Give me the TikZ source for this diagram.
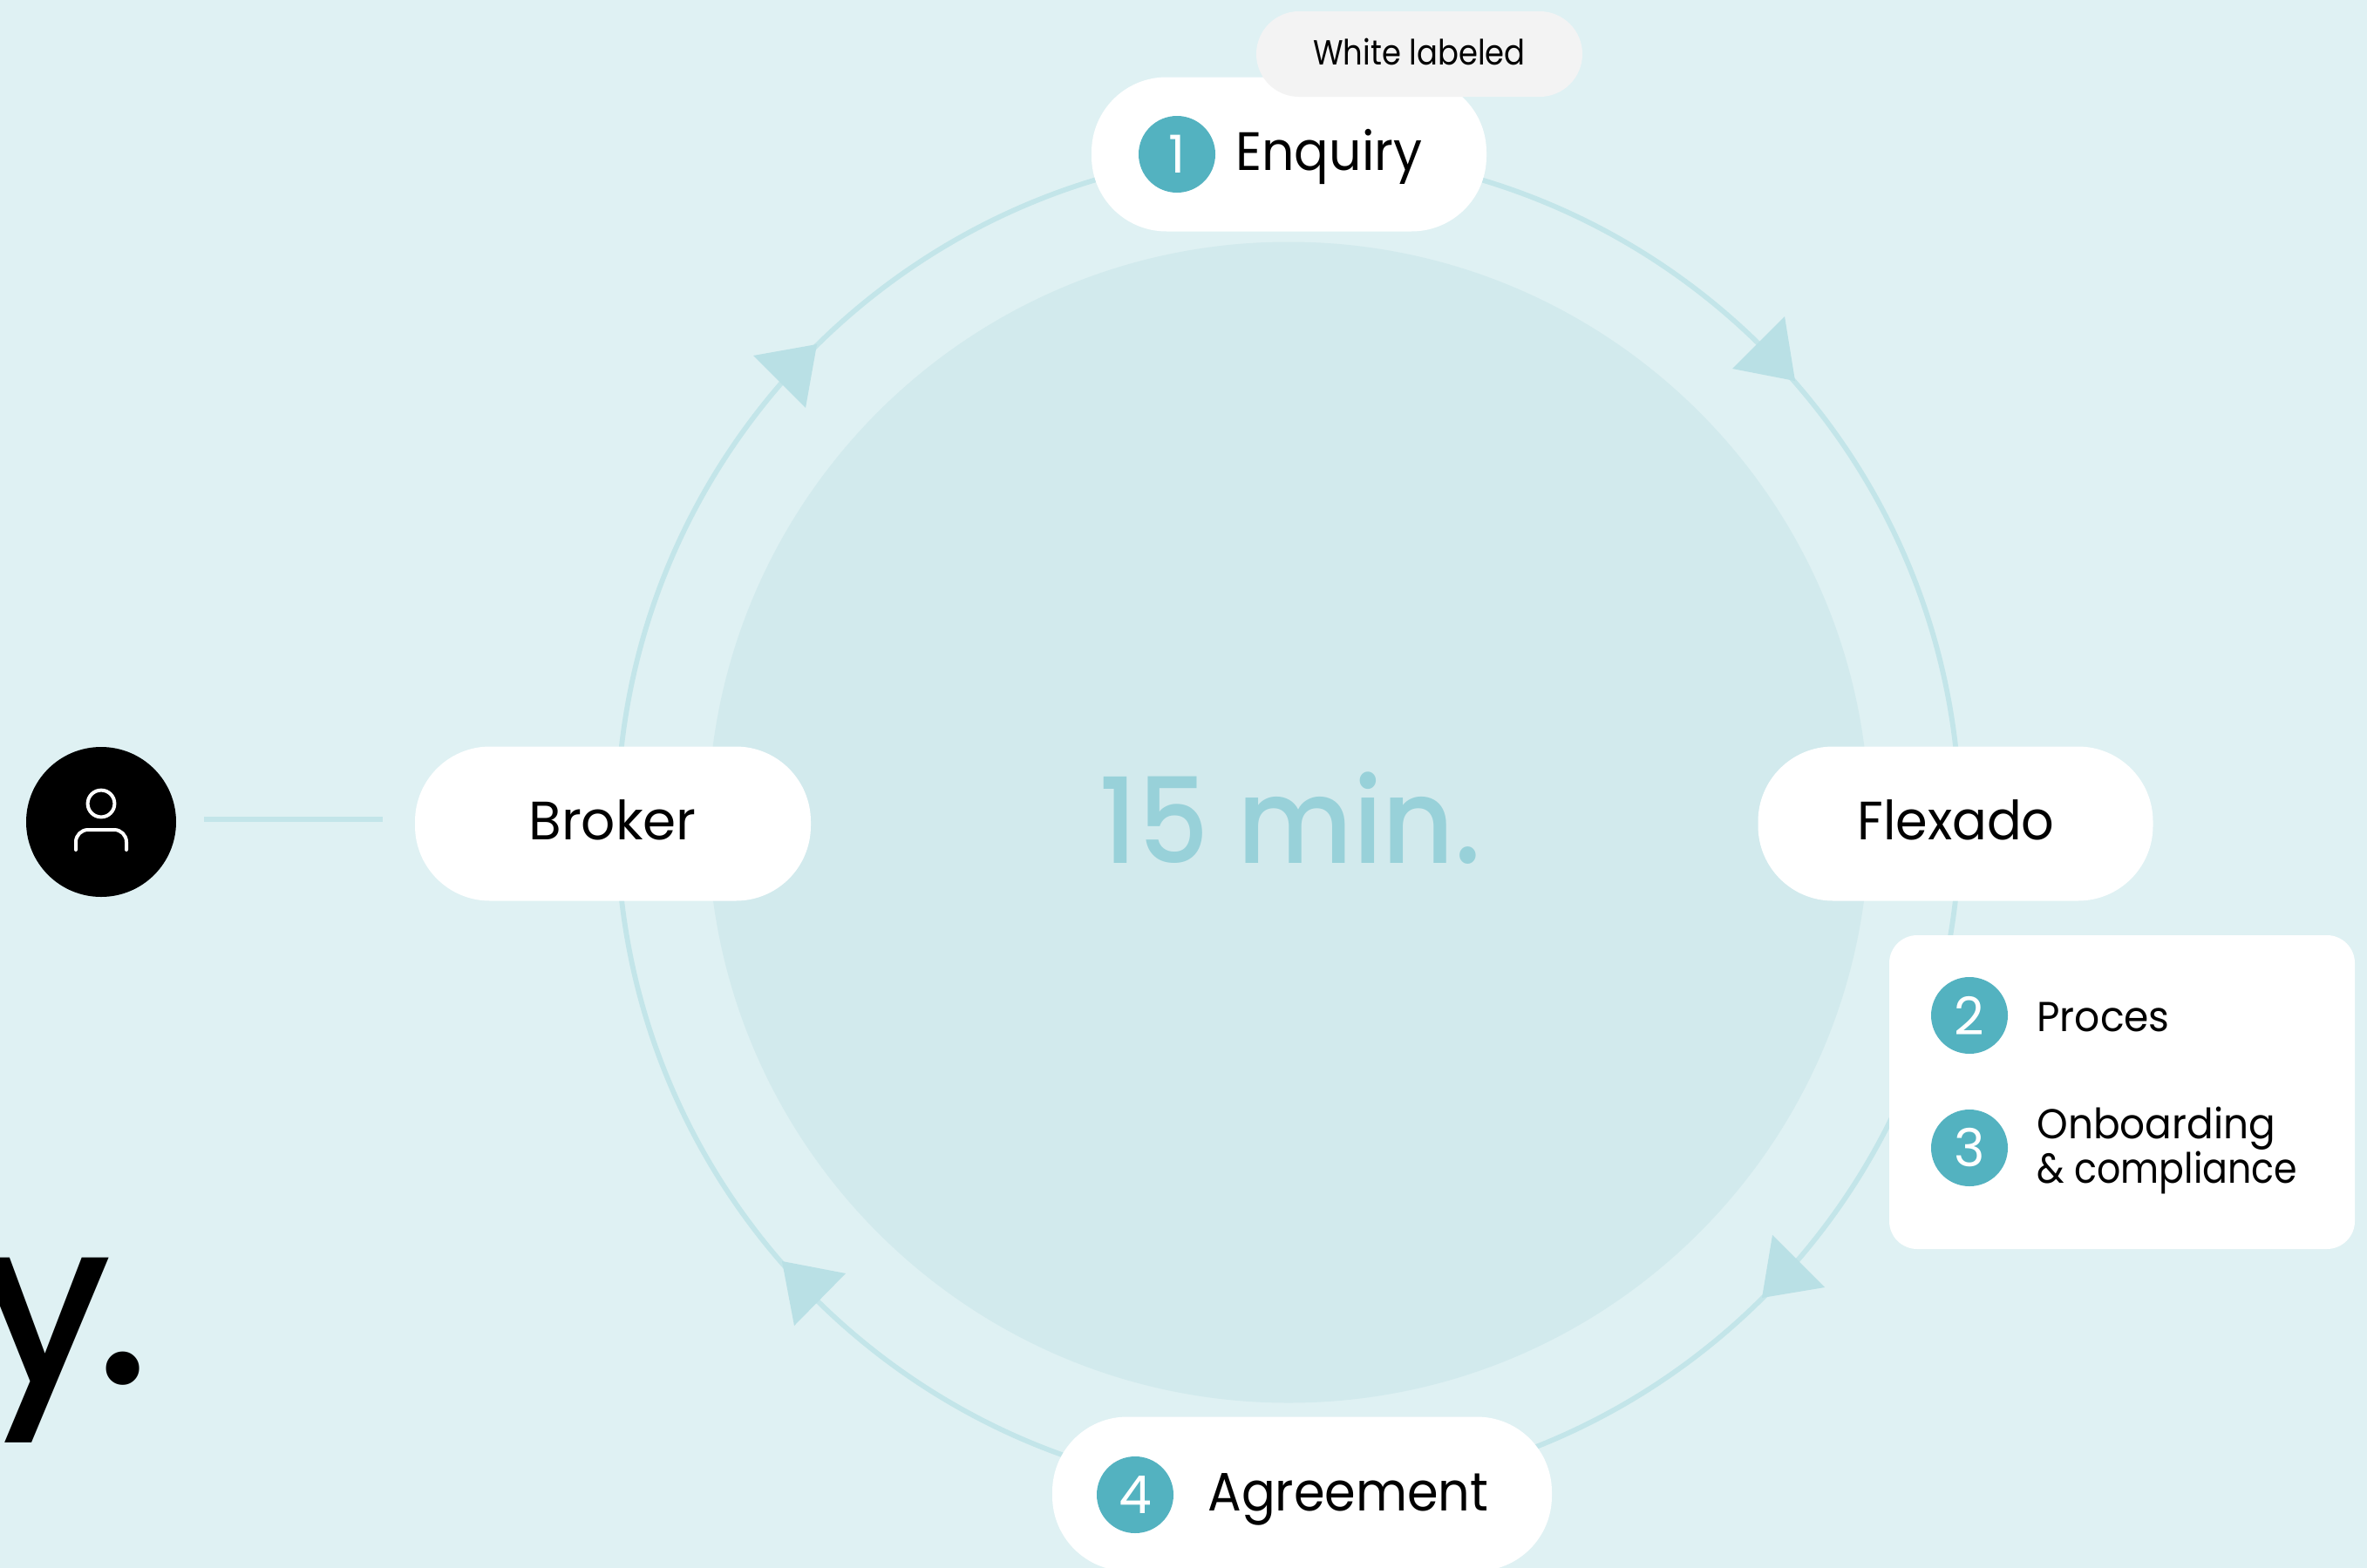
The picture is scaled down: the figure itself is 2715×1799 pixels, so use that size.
\documentclass[tikz,border=0pt]{standalone}
\usepackage{fontspec}
\usepackage{graphicx}
\usetikzlibrary{backgrounds}
\setmainfont{Poppins}
\newfontfamily\medf{Poppins Medium}
\newcommand{\hs}[2]{\scalebox{#1}[1]{#2}}
\definecolor{pagebg}{HTML}{DFF1F3}
\definecolor{innerc}{HTML}{D2EAED}
\definecolor{ringc}{HTML}{C3E5E9}
\definecolor{tric}{HTML}{B9E0E5}
\definecolor{badgec}{HTML}{53B2C0}
\definecolor{minc}{HTML}{98D1D9}
\definecolor{tagc}{HTML}{F3F3F3}
\tikzset{
 pill/.style={fill=white,minimum height=88.5pt,rounded corners=43pt,inner sep=0pt,outer sep=0pt},
 tagpill/.style={fill=tagc,minimum height=49pt,minimum width=187pt,rounded corners=24.5pt,inner sep=0pt},
 card/.style={fill=white,minimum width=267pt,minimum height=180pt,rounded corners=16pt,inner sep=0pt},
 badge/.style={circle,fill=badgec,minimum size=44pt,inner sep=0pt,text=white,font=\fontsize{30}{30}\selectfont},
 big/.style={anchor=base west,inner sep=0pt,text=black,font=\fontsize{31}{31}\selectfont},
 small/.style={anchor=base west,inner sep=0pt,text=black,font=\fontsize{24}{24}\selectfont},
 tiny/.style={anchor=base west,inner sep=0pt,text=black,font=\fontsize{20}{20}\selectfont},
 ring/.style={draw=ringc,line width=2.9pt},
 arrowtri/.style={fill=tric},
}
\begin{document}
\begin{tikzpicture}[x=0.5pt,y=-0.5pt]
\useasboundingbox (0,0) rectangle (2715,1799);
\clip (0,0) rectangle (2715,1799);
% nodes
\node[circle,fill=innerc,minimum size=666pt,inner sep=0pt] (core) at (1478,943.5) {};
\coordinate (rT) at (1478,174);
\coordinate (rR) at (2248,944);
\coordinate (rB) at (1478,1714);
\coordinate (rL) at (708,944);
\node[pill,minimum width=226.5pt] (enquiry) at (1478.5,177) {};
\node[tagpill] (tag) at (1628,62) {};
\node[badge] (b1) at (1350,177) {1};
\node[big] (tenquiry) at (1417,195) {\hs{.945}{Enquiry}};
\node[tiny] (ttag) at (1506,74) {\hs{.885}{White labeled}};
\node[pill,minimum width=226.5pt] (flexado) at (2243,945) {};
\node[big] (tflexado) at (2130,963) {\hs{.95}{Flexado}};
\node[pill,minimum width=227pt] (broker) at (703,945) {};
\node[big] (tbroker) at (606,963) {\hs{.99}{Broker}};
\node[pill,minimum width=286.5pt] (agreement) at (1493.5,1714) {};
\node[badge] (b4) at (1302,1715) {4};
\node[big] (tagreement) at (1385,1733) {\hs{.925}{Agreement}};
\node[card] (panel) at (2434,1253) {};
\node[badge] (b2) at (2259,1165) {2};
\node[badge] (b3) at (2259,1317) {3};
\node[small] (tproces) at (2336,1183) {\hs{.95}{Proces}};
\node[small] (tonb) at (2336,1306) {\hs{.945}{Onboarding}};
\node[small] (tcomp) at (2336,1357) {\hs{.89}{\& compliance}};
\node[anchor=base,inner sep=0pt,text=minc,font=\medf\fontsize{68}{68}\selectfont] (mins) at (1480,990) {\hs{.936}{15 min.}};
\node[circle,fill=black,minimum size=86pt,inner sep=0pt] (user) at (116,943) {};
\coordinate (lineA) at (234,940);
\coordinate (lineB) at (439,940);
\node[anchor=base east,inner sep=0pt,text=black,font=\medf\fontsize{131}{131}\selectfont] (ydot) at (173,1587) {y\kern-9.5pt.};
% icon
\draw[white,line width=2pt] (116,922) circle[radius=7.7pt];
\draw[white,line width=2pt,line cap=round,rounded corners=7pt] (87,975) -- (87,952) -- (145,952) -- (145,975);
% connectors
\begin{pgfonlayer}{background}
\fill[pagebg] (0,0) rectangle (2715,1799);
\draw[ring] (rT) arc[start angle=90,end angle=0,radius=385pt];
\draw[ring] (rR) arc[start angle=0,end angle=-90,radius=385pt];
\draw[ring] (rB) arc[start angle=-90,end angle=-180,radius=385pt];
\draw[ring] (rL) arc[start angle=180,end angle=90,radius=385pt];
\draw[ring] (lineA) -- (lineB);
\end{pgfonlayer}
\fill[arrowtri] (937,395) -- (864,408) -- (924,468) -- cycle;
\fill[arrowtri] (2059,437) -- (2047,363) -- (1987,423) -- cycle;
\fill[arrowtri] (2021,1489) -- (2033,1417) -- (2093,1477) -- cycle;
\fill[arrowtri] (897,1447) -- (970,1461) -- (911,1521) -- cycle;
\end{tikzpicture}
\end{document}
